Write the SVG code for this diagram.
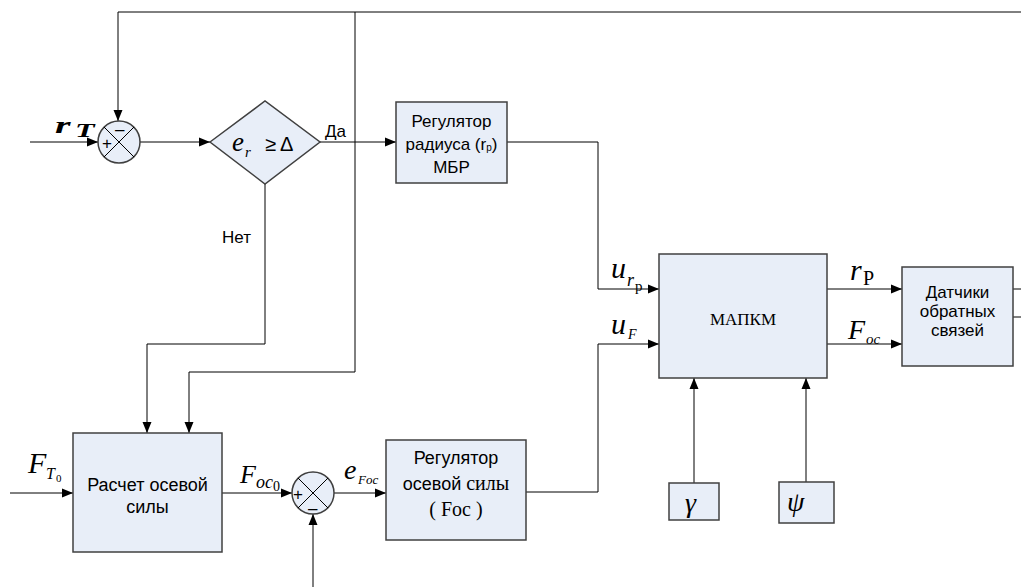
<svg xmlns="http://www.w3.org/2000/svg" width="1021" height="587" viewBox="0 0 1021 587">
<defs>
<marker id="ah" markerUnits="userSpaceOnUse" markerWidth="12" markerHeight="10" refX="11" refY="5" orient="auto">
<path d="M0,0.5 L11,5 L0,9.5 Z" fill="#000"/>
</marker>
<style>
.blk{fill:#e8eef8;stroke:#404040;stroke-width:1.5}
.ln{fill:none;stroke:#000;stroke-width:1}
.ar{fill:none;stroke:#000;stroke-width:1;marker-end:url(#ah)}
.sans{font-family:"Liberation Sans",Arial,sans-serif;fill:#000}
.ser{font-family:"Liberation Serif","Times New Roman",serif;fill:#000}
.it{font-style:italic}
</style>
</defs>
<rect width="1021" height="587" fill="#fff"/>
<g id="connectors">
<polyline class="ar" points="1021,12 118,12 118,121"/>
<line class="ar" x1="30" y1="142" x2="98" y2="142"/>
<line class="ar" x1="140" y1="142" x2="210" y2="142"/>
<line class="ar" x1="320" y1="142" x2="396" y2="142"/>
<polyline class="ar" points="507,142 598,142 598,289 659,289"/>
<polyline class="ar" points="526,492 598,492 598,344 659,344"/>
<line class="ar" x1="827" y1="289" x2="902" y2="289"/>
<line class="ar" x1="827" y1="344" x2="902" y2="344"/>
<line class="ln" x1="1013" y1="289" x2="1021" y2="289"/>
<line class="ln" x1="1013" y1="317" x2="1021" y2="317"/>
<polyline class="ar" points="265,184 265,344 147,344 147,433"/>
<polyline class="ar" points="355,12 355,372 189,372 189,433"/>
<line class="ar" x1="10" y1="493" x2="73" y2="493"/>
<line class="ar" x1="222" y1="493" x2="292" y2="493"/>
<line class="ar" x1="334" y1="493" x2="386" y2="493"/>
<line class="ar" x1="313" y1="587" x2="313" y2="514"/>
<line class="ar" x1="694" y1="483" x2="694" y2="378"/>
<line class="ar" x1="806" y1="482" x2="806" y2="378"/>
</g>
<g id="sum1">
<circle class="blk" cx="119" cy="142" r="21"/>
<line class="ln" x1="104" y1="127" x2="134" y2="157"/>
<line class="ln" x1="134" y1="127" x2="104" y2="157"/>
<text class="sans" x="102" y="149" font-size="17">+</text>
<text class="sans" x="115" y="135" font-size="17">–</text>
</g>
<g id="rT">
<g transform="translate(55,133) scale(1,0.6)">
<text class="ser it" x="0" y="0" font-size="40" font-weight="bold">r</text>
<text class="ser it" x="20" y="6" font-size="32" font-weight="bold">T</text>
</g>
</g>
<g id="decision">
<polygon class="blk" points="210,142 265,101 320,142 265,184"/>
<text class="ser it" x="232" y="151" font-size="27">e</text>
<text class="ser it" x="245" y="157" font-size="15">r</text>
<text class="sans" x="265" y="151" font-size="20">≥</text>
<text class="sans" x="280" y="151" font-size="20">Δ</text>
</g>
<text class="sans" x="325" y="137" font-size="17">Да</text>
<text class="sans" x="222" y="243" font-size="17">Нет</text>
<g id="regR">
<rect class="blk" x="396" y="102" width="111" height="81"/>
<text class="sans" x="451.5" y="127" font-size="17" text-anchor="middle">Регулятор</text>
<text class="sans" x="451.5" y="150" font-size="17" text-anchor="middle">радиуса (r<tspan font-size="10" dy="1">р</tspan><tspan dy="-1">)</tspan></text>
<text class="sans" x="451.5" y="173" font-size="17" text-anchor="middle">МБР</text>
</g>
<g id="mapkm">
<rect class="blk" x="659" y="254" width="168" height="124"/>
<text class="ser" x="743" y="325" font-size="17" text-anchor="middle">МАПКМ</text>
</g>
<g id="labels-u">
<text class="ser it" x="611" y="278" font-size="30">u</text>
<text class="ser it" x="627" y="286" font-size="18">r</text>
<text class="ser" x="635" y="291" font-size="15">р</text>
<text class="ser it" x="611" y="334" font-size="30">u</text>
<text class="ser it" x="628" y="339" font-size="14">F</text>
<text class="ser it" x="850" y="280" font-size="30">r</text>
<text class="ser" x="863" y="285" font-size="20">Р</text>
<text class="ser it" x="848" y="339" font-size="28">F</text>
<text class="ser it" x="866" y="344" font-size="15">oc</text>
</g>
<g id="sensors">
<rect class="blk" x="902" y="267" width="111" height="99"/>
<text class="sans" x="957.5" y="298" font-size="17" text-anchor="middle">Датчики</text>
<text class="sans" x="957.5" y="317" font-size="17" text-anchor="middle">обратных</text>
<text class="sans" x="957.5" y="336" font-size="17" text-anchor="middle">связей</text>
</g>
<g id="calc">
<rect class="blk" x="73" y="433" width="149" height="119"/>
<text class="sans" x="147.5" y="491" font-size="18" text-anchor="middle">Расчет осевой</text>
<text class="sans" x="147.5" y="513" font-size="18" text-anchor="middle">силы</text>
</g>
<g id="labelsF">
<text class="ser it" x="28" y="473" font-size="30">F</text>
<text class="ser it" x="46" y="479" font-size="16">T</text>
<text class="ser" x="56" y="482" font-size="11">0</text>
<text class="ser it" x="240" y="483" font-size="26">F</text>
<text class="ser it" x="256" y="488" font-size="18">oc</text>
<text class="ser" x="273" y="491" font-size="14">0</text>
<text class="ser it" x="344" y="479" font-size="28">e</text>
<text class="ser it" x="358" y="484" font-size="13">Foc</text>
</g>
<g id="sum2">
<circle class="blk" cx="313" cy="493" r="21"/>
<line class="ln" x1="298" y1="478" x2="328" y2="508"/>
<line class="ln" x1="328" y1="478" x2="298" y2="508"/>
<text class="sans" x="293" y="500" font-size="17">+</text>
<text class="sans" x="308" y="514" font-size="17">–</text>
</g>
<g id="regF">
<rect class="blk" x="386" y="440" width="140" height="100"/>
<text class="sans" x="456" y="464" font-size="18" text-anchor="middle">Регулятор</text>
<text x="456" y="490" text-anchor="middle"><tspan class="sans" font-size="18">осевой </tspan><tspan class="ser" font-size="20">силы</tspan></text>
<text class="ser" x="456" y="516" font-size="20" text-anchor="middle">( Foc )</text>
</g>
<g id="gamma">
<rect class="blk" x="669" y="483" width="50" height="37"/>
<text class="ser it" x="685" y="512" font-size="28">γ</text>
</g>
<g id="psi">
<rect class="blk" x="779" y="482" width="55" height="41"/>
<text class="ser it" x="787" y="511" font-size="28">ψ</text>
</g>
</svg>
